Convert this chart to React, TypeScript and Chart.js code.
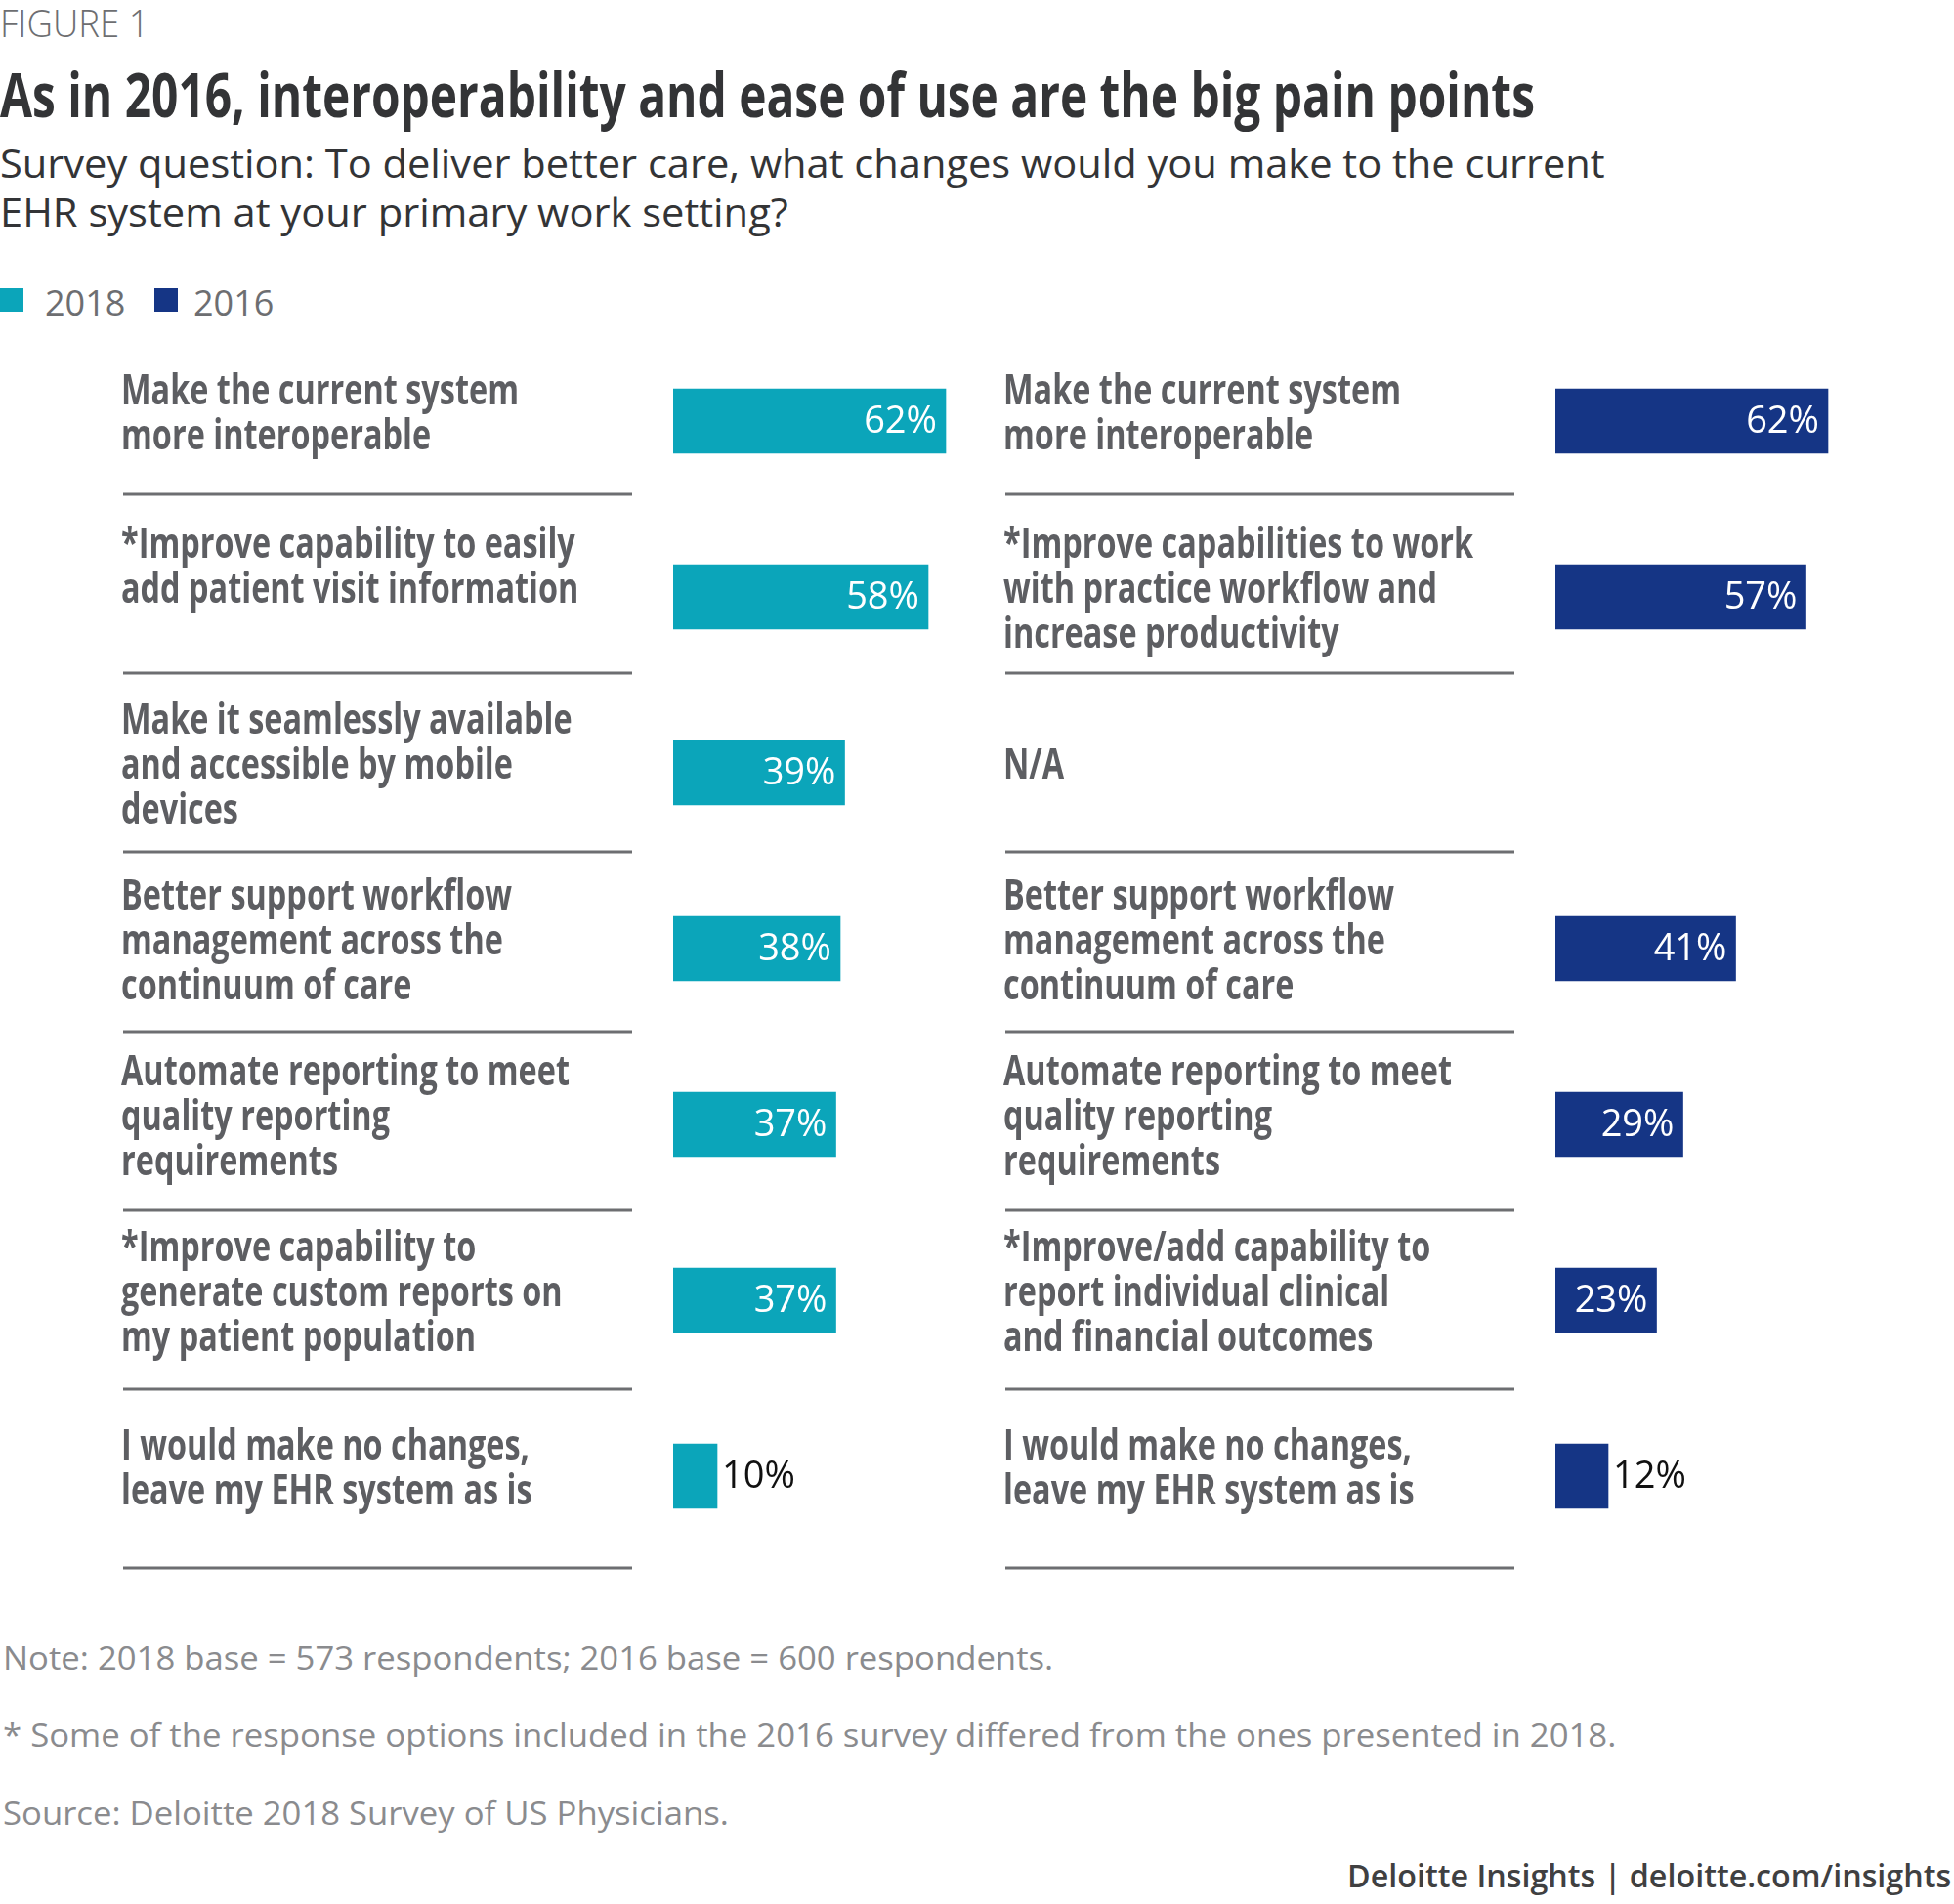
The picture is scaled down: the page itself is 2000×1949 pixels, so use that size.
import React, { useEffect, useLayoutEffect, useRef } from "react";
import { Chart, registerables } from "chart.js";

Chart.register(...registerables);

// ---------- data ----------
const seriesNames = ["2018", "2016"];
const labels2018: string[][] = [
  ["Make the current system", "more interoperable"],
  ["*Improve capability to easily", "add patient visit information"],
  ["Make it seamlessly available", "and accessible by mobile", "devices"],
  ["Better support workflow", "management across the", "continuum of care"],
  ["Automate reporting to meet", "quality reporting", "requirements"],
  ["*Improve capability to", "generate custom reports on", "my patient population"],
  ["I would make no changes,", "leave my EHR system as is"],
];
const values2018: (number | null)[] = [62, 58, 39, 38, 37, 37, 10];
const labels2016: string[][] = [
  ["Make the current system", "more interoperable"],
  ["*Improve capabilities to work", "with practice workflow and", "increase productivity"],
  ["N/A"],
  ["Better support workflow", "management across the", "continuum of care"],
  ["Automate reporting to meet", "quality reporting", "requirements"],
  ["*Improve/add capability to", "report individual clinical", "and financial outcomes"],
  ["I would make no changes,", "leave my EHR system as is"],
];
const values2016: (number | null)[] = [62, 57, null, 41, 29, 23, 12];
const noteLines = [
  "Note: 2018 base = 573 respondents; 2016 base = 600 respondents.",
  "* Some of the response options included in the 2016 survey differed from the ones presented in 2018.",
  "Source: Deloitte 2018 Survey of US Physicians.",
];

// ---------- styles ----------
const TEAL = "#0ba5ba";
const NAVY = "#153585";
const LABEL_GRAY = "#5d5e62";
const RULE_GRAY = "#6d6e71";
const FONT = '"Open Sans", "Noto Sans", sans-serif';

const CANVAS_W = 1097;
const CANVAS_H = 1330;
const CANVAS_TOP = 300;
// separator rules (layout, canvas coordinates)
const RULE_FIRST = 206;
const RULE_STEP = 183.17;

function FitText(props: {
  text: string;
  width: number;
  lh: number;
  style: React.CSSProperties;
  origin?: string;
}) {
  const ref = useRef<HTMLSpanElement>(null);
  useLayoutEffect(() => {
    const el = ref.current;
    if (!el) return;
    el.style.transform = "none";
    const w = el.offsetWidth;
    if (w > 0) el.style.transform = `scaleX(${props.width / w})`;
  }, [props.text, props.width]);
  return (
    <span
      ref={ref}
      style={{
        display: "inline-block",
        whiteSpace: "nowrap",
        transformOrigin: props.origin || "left center",
        ...props.style,
        lineHeight: `${props.lh}px`,
        verticalAlign: "top",
      }}
    >
      {props.text}
    </span>
  );
}

function Line(props: {
  text: string;
  left?: number;
  right?: number;
  cy: number;
  lh: number;
  width: number;
  font: string;
  color: string;
}) {
  const pos: React.CSSProperties = {
    position: "absolute",
    top: props.cy - props.lh / 2,
    height: props.lh,
    lineHeight: `${props.lh}px`,
    whiteSpace: "nowrap",
  };
  if (props.right !== undefined) {
    pos.right = props.right;
    pos.textAlign = "right";
  } else pos.left = props.left ?? 0;
  return (
    <div style={pos}>
      <FitText
        text={props.text}
        width={props.width}
        lh={props.lh}
        origin={props.right !== undefined ? "right center" : "left center"}
        style={{ font: props.font, color: props.color }}
      />
    </div>
  );
}

function Panel(props: {
  left: number;
  values: (number | null)[];
  lines: string[][];
  other: string[][];
  color: string;
  name: string;
}) {
  const ref = useRef<HTMLCanvasElement>(null);
  useEffect(() => {
    const canvas = ref.current;
    if (!canvas) return;
    const { values, lines, other, color, name } = props;
    const labelPlugin = {
      id: "panelDecor",
      afterDatasetsDraw(chart: any) {
        const ctx = chart.ctx as CanvasRenderingContext2D;
        const ys = chart.scales.y;
        const xs = chart.scales.x;
        const n = lines.length;
        ctx.save();
        const labelFont = `bold 43px ${FONT}`;
        ctx.font = labelFont;
        const sx = 407 / ctx.measureText("Make the current system").width;
        for (let i = 0; i < n; i++) {
          const yc = ys.getPixelForValue(i);
          // separator rule
          ctx.strokeStyle = RULE_GRAY;
          ctx.lineWidth = 3;
          ctx.beginPath();
          const ry = Math.round(RULE_FIRST + RULE_STEP * i);
          ctx.moveTo(126, ry);
          ctx.lineTo(647, ry);
          ctx.stroke();
          // category label
          const ls = lines[i];
          const slot =
            ls.length === 1
              ? 1
              : Math.max(ls.length, other[i].length === 1 ? 0 : other[i].length);
          const lh = 46;
          const startY = yc - 6 - ((slot - 1) / 2) * lh;
          ctx.font = labelFont;
          ctx.fillStyle = LABEL_GRAY;
          ctx.textAlign = "left";
          ctx.textBaseline = "middle";
          ls.forEach((t, k) => {
            ctx.save();
            ctx.translate(124, startY + k * lh);
            ctx.scale(sx, 1);
            ctx.fillText(t, 0, 0);
            ctx.restore();
          });
          // value label
          const v = values[i];
          if (v !== null && v !== undefined) {
            const xe = xs.getPixelForValue(v);
            ctx.font = `38px ${FONT}`;
            ctx.textBaseline = "middle";
            if (v >= 20) {
              ctx.fillStyle = "#ffffff";
              ctx.textAlign = "right";
              ctx.fillText(`${v}%`, xe - 9, yc + 1);
            } else {
              ctx.fillStyle = "#111111";
              ctx.textAlign = "left";
              ctx.fillText(`${v}%`, xe + 5, yc + 1);
            }
          }
        }
        ctx.restore();
      },
    };
    const chart = new Chart(canvas, {
      type: "bar",
      data: {
        labels: lines.map((l) => l.join(" ")),
        datasets: [
          {
            label: name,
            data: values as any,
            backgroundColor: color,
            borderWidth: 0,
            barThickness: 66,
          },
        ],
      },
      options: {
        indexAxis: "y",
        animation: false,
        responsive: false,
        devicePixelRatio: 1,
        layout: {
          padding: {
            left: 689,
            right: CANVAS_W - 1049,
            top: 41,
            bottom: 29,
          },
        },
        scales: {
          x: { type: "linear", min: 0, max: 80, display: false },
          y: { type: "category", display: false, offset: true },
        },
        plugins: {
          legend: { display: false },
          tooltip: { enabled: false },
          title: { display: false },
        },
      },
      plugins: [labelPlugin],
    });
    return () => chart.destroy();
  }, []);
  return (
    <canvas
      ref={ref}
      width={CANVAS_W}
      height={CANVAS_H}
      style={{
        position: "absolute",
        left: props.left,
        top: CANVAS_TOP,
        width: CANVAS_W,
        height: CANVAS_H,
      }}
    />
  );
}

export default function App() {
  const noteFont = `400 33px ${FONT}`;
  const noteColor = "#8a8b8e";
  const legendText: React.CSSProperties = {
    position: "absolute",
    top: 288,
    height: 44,
    font: `400 36px ${FONT}`,
    lineHeight: "44px",
    color: "#6d6e71",
  };
  return (
    <div
      style={{
        position: "absolute",
        left: 0,
        top: 0,
        width: 2000,
        height: 1949,
        background: "#ffffff",
        overflow: "hidden",
      }}
    >
      <Line text="FIGURE 1" left={0} cy={23} lh={40} width={153} font={`300 38px ${FONT}`} color="#6d6e71" />
      <Line
        text="As in 2016, interoperability and ease of use are the big pain points"
        left={0}
        cy={96}
        lh={70}
        width={1571}
        font={`700 63px ${FONT}`}
        color="#333436"
      />
      <Line
        text="Survey question: To deliver better care, what changes would you make to the current"
        left={0}
        cy={167}
        lh={50}
        width={1643}
        font={`400 40px ${FONT}`}
        color="#333436"
      />
      <Line
        text="EHR system at your primary work setting?"
        left={0}
        cy={217}
        lh={50}
        width={807}
        font={`400 40px ${FONT}`}
        color="#333436"
      />
      {/* legend */}
      <div style={{ position: "absolute", left: 0, top: 295, width: 24, height: 24, background: TEAL }} />
      <div style={{ ...legendText, left: 46 }}>{seriesNames[0]}</div>
      <div style={{ position: "absolute", left: 158, top: 295, width: 24, height: 24, background: NAVY }} />
      <div style={{ ...legendText, left: 198 }}>{seriesNames[1]}</div>

      <Panel left={0} values={values2018} lines={labels2018} other={labels2016} color={TEAL} name={seriesNames[0]} />
      <Panel left={903} values={values2016} lines={labels2016} other={labels2018} color={NAVY} name={seriesNames[1]} />

      <Line text={noteLines[0]} left={3} cy={1697} lh={44} width={1075} font={noteFont} color={noteColor} />
      <Line text={noteLines[1]} left={3} cy={1776} lh={44} width={1651} font={noteFont} color={noteColor} />
      <Line text={noteLines[2]} left={3} cy={1856} lh={44} width={743} font={noteFont} color={noteColor} />
      <Line
        text="Deloitte Insights | deloitte.com/insights"
        right={3}
        cy={1920}
        lh={44}
        width={618}
        font={`600 32px ${FONT}`}
        color="#404041"
      />
    </div>
  );
}
